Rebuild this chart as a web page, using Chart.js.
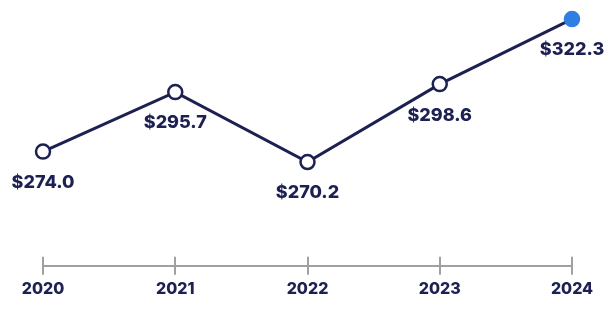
<!DOCTYPE html>
<html>
<head>
<meta charset="utf-8">
<title>Yearly values</title>
<script src="https://cdn.jsdelivr.net/npm/chart.js"></script>
<style>
  html, body { margin: 0; padding: 0; background: #ffffff; }
  #wrap { width: 613px; height: 310px; }
</style>
</head>
<body>
<div id="wrap"><canvas id="line-chart"></canvas></div>
<script>
const years = ['2020', '2021', '2022', '2023', '2024'];
const values = [274.0, 295.7, 270.2, 298.6, 322.3];

const navy = '#1c2152';
const blue = '#2f7fe3';
const axisGray = '#a0a0a0';
const fontFamily = 'Inter, "Open Sans", sans-serif';

// last point is filled blue, others are hollow
const pointFill = values.map((v, i) => i === values.length - 1 ? blue : '#ffffff');
const pointBorder = values.map((v, i) => i === values.length - 1 ? blue : navy);

// value labels under every point + upper half of the axis ticks
const labelPlugin = {
  id: 'valueLabels',
  afterDatasetsDraw(chart) {
    const ctx = chart.ctx;
    const meta = chart.getDatasetMeta(0);
    ctx.save();
    ctx.font = '800 18px ' + fontFamily;
    ctx.fillStyle = navy;
    ctx.textAlign = 'center';
    ctx.textBaseline = 'middle';
    meta.data.forEach((pt, i) => {
      ctx.fillText('$' + values[i].toFixed(1), pt.x, pt.y + 31);
    });
    ctx.restore();
  },
  afterDraw(chart) {
    const ctx = chart.ctx;
    const x = chart.scales.x;
    const bottom = chart.chartArea.bottom;
    ctx.save();
    ctx.strokeStyle = axisGray;
    ctx.lineWidth = 2;
    years.forEach((y, i) => {
      const px = Math.round(x.getPixelForValue(i));
      ctx.beginPath();
      ctx.moveTo(px, bottom - 9);
      ctx.lineTo(px, bottom);
      ctx.stroke();
    });
    ctx.restore();
  }
};

new Chart(document.getElementById('line-chart'), {
  type: 'line',
  data: {
    labels: years,
    datasets: [{
      data: values,
      borderColor: navy,
      borderWidth: 3,
      pointRadius: 7,
      pointHoverRadius: 7,
      pointBorderWidth: 2.5,
      pointBackgroundColor: pointFill,
      pointBorderColor: pointBorder,
      tension: 0,
      clip: false
    }]
  },
  options: {
    responsive: true,
    maintainAspectRatio: false,
    animation: false,
    layout: { padding: { left: 43, right: 41, top: 10, bottom: 6 } },
    plugins: {
      legend: { display: false },
      tooltip: { enabled: false }
    },
    scales: {
      x: {
        offset: false,
        grid: {
          display: true,
          drawOnChartArea: false,
          drawTicks: true,
          tickLength: 9,
          color: axisGray,
          lineWidth: 2
        },
        border: { display: true, color: axisGray, width: 2 },
        ticks: {
          padding: 5,
          color: navy,
          font: { family: fontFamily, size: 16, weight: 800 }
        }
      },
      y: {
        display: false,
        min: 232.4,
        max: 325.6
      }
    }
  },
  plugins: [labelPlugin]
});
</script>
</body>
</html>
